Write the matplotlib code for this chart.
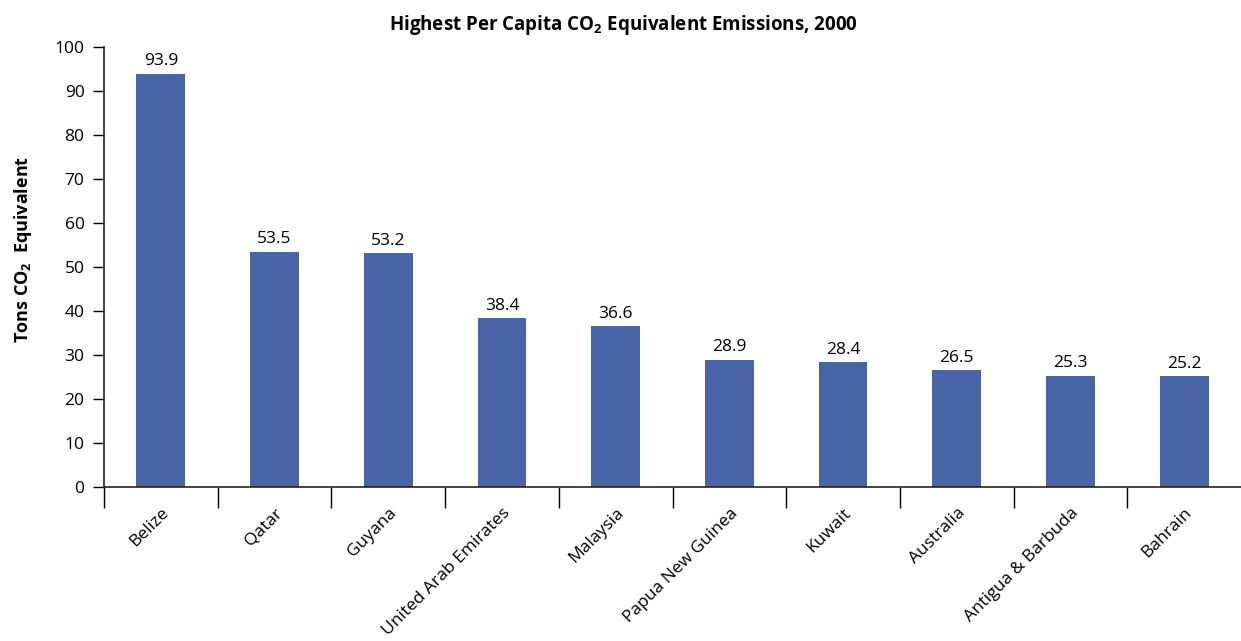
import matplotlib.pyplot as plt
import numpy as np

countries = ['Belize', 'Qatar', 'Guyana', 'United Arab Emirates', 'Malaysia',
             'Papua New Guinea', 'Kuwait', 'Australia', 'Antigua & Barbuda', 'Bahrain']
values = [93.9, 53.5, 53.2, 38.4, 36.6, 28.9, 28.4, 26.5, 25.3, 25.2]
yticks = [0, 10, 20, 30, 40, 50, 60, 70, 80, 90, 100]

plt.rcParams['font.family'] = ['Open Sans', 'DejaVu Sans']
plt.rcParams['mathtext.fontset'] = 'custom'
plt.rcParams['mathtext.rm'] = 'Open Sans'
plt.rcParams['mathtext.bf'] = 'Open Sans:bold'

fig = plt.figure(figsize=(12.41, 6.41), dpi=100)
ax = fig.add_axes([104 / 1241, 154 / 641, 1 - 104 / 1241, 440 / 641])

x = np.arange(len(countries))
bars = ax.bar(x, values, width=0.43, color='#4a64a8')
for xi, v in zip(x, values):
    ax.text(xi, v + 1.0, '%.1f' % v, ha='center', va='bottom', fontsize=12.5)

ax.set_xlim(-0.5, len(countries) - 0.5)
ax.set_ylim(0, 100)
ax.set_yticks(yticks)
ax.tick_params(axis='y', direction='out', length=8, width=1, labelsize=12.5, pad=6)

# category ticks sit between the bars
ax.set_xticks(np.arange(len(countries)) - 0.5, minor=False)
ax.set_xticklabels([])
ax.tick_params(axis='x', which='major', direction='out', length=15, width=1)
ax.set_xticks(x, minor=True)
ax.set_xticklabels(countries, minor=True, rotation=45, ha='right', va='top',
                   rotation_mode='anchor', fontsize=12.5)
ax.tick_params(axis='x', which='minor', length=0, pad=13)

for s in ['top', 'right']:
    ax.spines[s].set_visible(False)
for s in ['left', 'bottom']:
    ax.spines[s].set_color('#222222')
    ax.spines[s].set_linewidth(1.2)

ax.set_ylabel(r'Tons CO$_\mathbf{2}$  Equivalent', fontsize=13, fontweight='bold')
ax.yaxis.set_label_coords(-0.062, 0.54)
fig.text(623 / 1241, 1 - 25 / 641, r'Highest Per Capita CO$_\mathbf{2}$ Equivalent Emissions, 2000',
         ha='center', va='center', fontsize=13.5, fontweight='bold')

fig.savefig('out.png', dpi=100)
